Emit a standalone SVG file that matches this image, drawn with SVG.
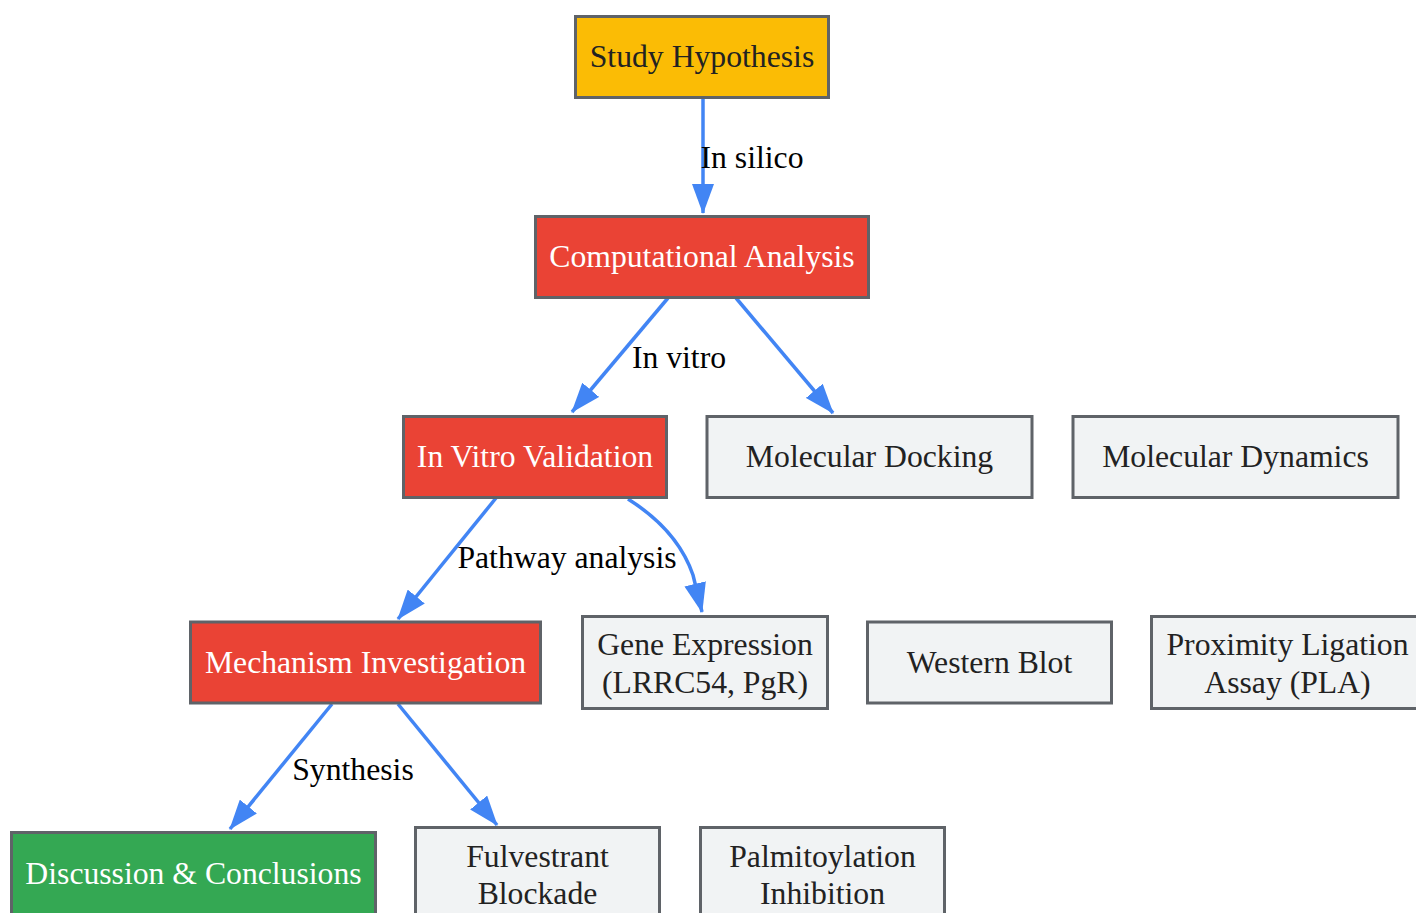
<svg xmlns="http://www.w3.org/2000/svg" width="1416" height="913" viewBox="0 0 1416 913">
<defs>
<style>
.n rect{stroke:#5f6368;stroke-width:3}
.y rect{fill:#FBBC05}
.r rect{fill:#EA4335}
.g rect{fill:#34A853}
.l rect{fill:#F1F3F4}
text{font-family:"Liberation Serif","Times New Roman",serif;font-size:31.7px;text-anchor:middle;dominant-baseline:central}
.y text,.l text{fill:#222}
.r text,.g text{fill:#fff}
.e path{fill:none;stroke:#4285F4;stroke-width:3.5;marker-end:url(#ah)}
.lb{fill:#000}
</style>
<marker id="ah" markerUnits="userSpaceOnUse" markerWidth="30" markerHeight="22" refX="29" refY="11" orient="auto">
<path d="M0,0 L30,11 L0,22 z" fill="#4285F4"/>
</marker>
</defs>
<rect width="1416" height="913" fill="#fff"/>
<g id="connectors" class="e">
<path d="M703,98 L703,213"/>
<path d="M668,298 L572,412"/>
<path d="M736,298 L833,413"/>
<path d="M496,498 L398,619"/>
<path d="M628,499 C655,516 681,540 693,575 L702,612"/>
<path d="M332,704 L230,829"/>
<path d="M398,704 L497,825"/>
</g>
<g id="edge-labels">
<text class="lb" x="752" y="157">In silico</text>
<text class="lb" x="679" y="357">In vitro</text>
<text class="lb" x="567" y="557">Pathway analysis</text>
<text class="lb" x="353" y="769">Synthesis</text>
</g>
<g id="hyp" class="n y"><rect x="575.5" y="16.5" width="253" height="81"/><text x="702" y="56">Study Hypothesis</text></g>
<g id="comp" class="n r"><rect x="535.5" y="216.5" width="333" height="81"/><text x="702" y="256">Computational Analysis</text></g>
<g id="vitro" class="n r"><rect x="403.5" y="416.5" width="263" height="81"/><text x="535" y="456">In Vitro Validation</text></g>
<g id="dock" class="n l"><rect x="707" y="416.5" width="325" height="81"/><text x="869.5" y="456">Molecular Docking</text></g>
<g id="dyn" class="n l"><rect x="1073" y="416.5" width="325" height="81"/><text x="1235.5" y="456">Molecular Dynamics</text></g>
<g id="mech" class="n r"><rect x="190.5" y="622" width="350" height="81"/><text x="365.5" y="662">Mechanism Investigation</text></g>
<g id="gene" class="n l"><rect x="582.5" y="616.5" width="245" height="92"/><text x="705" y="644">Gene Expression</text><text x="705" y="682">(LRRC54, PgR)</text></g>
<g id="wb" class="n l"><rect x="867.5" y="622" width="244" height="81"/><text x="989.5" y="662">Western Blot</text></g>
<g id="pla" class="n l"><rect x="1151.5" y="616.5" width="272" height="92"/><text x="1287.5" y="644">Proximity Ligation</text><text x="1287.5" y="682">Assay (PLA)</text></g>
<g id="disc" class="n g"><rect x="11.5" y="832.5" width="364" height="90"/><text x="193.5" y="873">Discussion &amp; Conclusions</text></g>
<g id="fulv" class="n l"><rect x="415.5" y="827.5" width="244" height="95"/><text x="537.5" y="856">Fulvestrant</text><text x="537.5" y="893">Blockade</text></g>
<g id="palm" class="n l"><rect x="700.5" y="827.5" width="244" height="95"/><text x="822.5" y="856">Palmitoylation</text><text x="822.5" y="893">Inhibition</text></g>
</svg>
